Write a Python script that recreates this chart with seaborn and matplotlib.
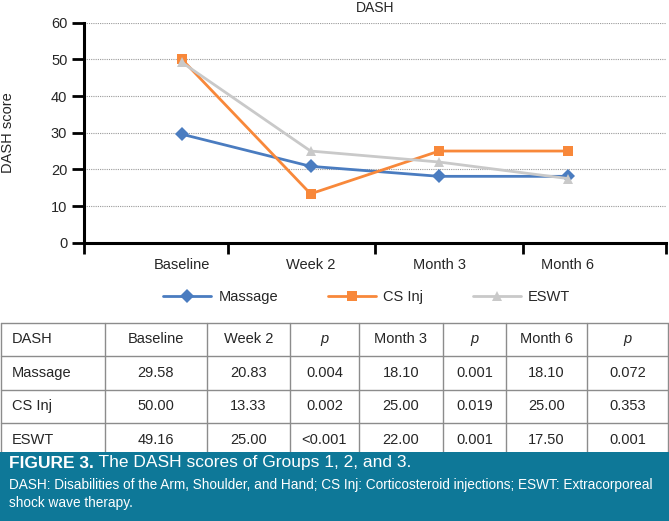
import numpy as np
import pandas as pd
import matplotlib
matplotlib.use("Agg")
import matplotlib.pyplot as plt
from matplotlib.patches import Rectangle
import seaborn as sns

# ==================== Data ====================
TIMEPOINTS = ["Baseline", "Week 2", "Month 3", "Month 6"]
GROUPS = ["Massage", "CS Inj", "ESWT"]
MASSAGE = [29.58, 20.83, 18.10, 18.10]
CS_INJ = [50.00, 13.33, 25.00, 25.00]
ESWT = [49.16, 25.00, 22.00, 17.50]
Y_TICKS = [0, 10, 20, 30, 40, 50, 60]

TABLE_HEADER = ["DASH", "Baseline", "Week 2", "p", "Month 3", "p", "Month 6", "p"]
TABLE_ROWS = [
    ["Massage", "29.58", "20.83", "0.004", "18.10", "0.001", "18.10", "0.072"],
    ["CS Inj", "50.00", "13.33", "0.002", "25.00", "0.019", "25.00", "0.353"],
    ["ESWT", "49.16", "25.00", "<0.001", "22.00", "0.001", "17.50", "0.001"],
]

CAPTION_BOLD = "FIGURE 3."
CAPTION_TITLE = " The DASH scores of Groups 1, 2, and 3."
CAPTION_NOTE = ("DASH: Disabilities of the Arm, Shoulder, and Hand; CS Inj: Corticosteroid "
                "injections; ESWT: Extracorporeal\nshock wave therapy.")

# ==================== Style ====================
sns.set_style("white")
plt.rcParams["font.family"] = ["Liberation Sans", "DejaVu Sans"]

COLORS = {"Massage": "#4A7CC0", "CS Inj": "#F8883A", "ESWT": "#C9C9C9"}
MARKERS = {"Massage": "D", "CS Inj": "s", "ESWT": "^"}
MSIZE = {"Massage": 7.5, "CS Inj": 7, "ESWT": 7}
TEAL = "#0E7898"

df = pd.DataFrame({
    "time": TIMEPOINTS * 3,
    "group": np.repeat(GROUPS, len(TIMEPOINTS)),
    "score": MASSAGE + CS_INJ + ESWT,
})

W, H = 669, 521
fig = plt.figure(figsize=(W / 100, H / 100), dpi=100)

# ---- chart ----
ax = fig.add_axes([84 / W, 1 - 242.7 / H, (666 - 84) / W, 220 / H])
for g in GROUPS:
    sub = df[df["group"] == g]
    sns.lineplot(data=sub, x="time", y="score", ax=ax, color=COLORS[g],
                 marker=MARKERS[g], markersize=MSIZE[g], markeredgewidth=0,
                 linewidth=2, label=g, sort=False)

ax.set_xlim(-0.762, 3.764)
ax.set_ylim(0, 60)
ax.set_yticks(Y_TICKS)
ax.set_yticklabels([str(v) for v in Y_TICKS], fontsize=10.5)
ax.set_xticks(range(len(TIMEPOINTS)))
ax.set_xticklabels(TIMEPOINTS, fontsize=10.5)
ax.tick_params(axis="x", which="major", bottom=True, length=0, pad=11)
ax.set_xticks([-0.762, 0.36, 1.5, 2.65, 3.764], minor=True)
ax.tick_params(axis="x", which="minor", bottom=True, length=8, width=2,
               color="black", direction="out")
ax.tick_params(axis="y", left=True, length=9, width=2, color="black",
               direction="out", pad=3)
for y in Y_TICKS[1:]:
    ax.axhline(y, color="#9A9A9A", linestyle=(0, (1, 1)), linewidth=0.8, zorder=0)
for s in ["top", "right"]:
    ax.spines[s].set_visible(False)
ax.spines["left"].set_linewidth(2.2)
ax.spines["bottom"].set_linewidth(2.2)
ax.spines["left"].set_color("black")
ax.spines["bottom"].set_color("black")
ax.set_xlabel("")
ax.set_ylabel("")
ax.set_title("DASH", fontsize=10, pad=8)
fig.text(8 / W, 1 - 132.7 / H, "DASH score", rotation=90, ha="center", va="center", fontsize=10.5)

leg = ax.legend(loc="center", bbox_to_anchor=(0.548, 1 - 296.7 / H),
                bbox_transform=fig.transFigure, ncol=3, frameon=False,
                fontsize=10.5, handlelength=3.3, handletextpad=0.5, columnspacing=3.4)

# ---- table ----
tax = fig.add_axes([0, 0, 1, 1])
tax.set_xlim(0, W)
tax.set_ylim(H, 0)
tax.axis("off")
col_edges = [1, 105, 207, 290, 359, 443, 506, 587, 668]
row_edges = [322.5, 356, 389.5, 423, 456.5]
for x in col_edges:
    tax.plot([x, x], [row_edges[0], row_edges[-1]], color="#8C8C8C", lw=1)
for y in row_edges:
    tax.plot([col_edges[0], col_edges[-1]], [y, y], color="#8C8C8C", lw=1)
for r, row in enumerate([TABLE_HEADER] + TABLE_ROWS):
    yc = (row_edges[r] + row_edges[r + 1]) / 2
    for c, val in enumerate(row):
        if c == 0:
            tax.text(col_edges[0] + 11, yc, val, ha="left", va="center", fontsize=10.5)
        else:
            xc = (col_edges[c] + col_edges[c + 1]) / 2
            style = "italic" if (r == 0 and val == "p") else "normal"
            tax.text(xc, yc, val, ha="center", va="center", fontsize=10.5, fontstyle=style)

# ---- caption ----
tax.add_patch(Rectangle((0, 452), W, H - 452, facecolor=TEAL, edgecolor="none", zorder=3))
t1 = tax.text(9, 463, CAPTION_BOLD, ha="left", va="center", fontsize=12.5,
              fontweight="bold", color="white", zorder=4)
fig.canvas.draw()
bb = t1.get_window_extent()
x_end = bb.x1
tax.text(x_end, H - 463, CAPTION_TITLE, transform=None, ha="left", va="center",
         fontsize=12.5, color="white", zorder=4)
tax.text(9, 494, CAPTION_NOTE, ha="left", va="center", fontsize=9.8, color="white",
         linespacing=1.35, zorder=4)

fig.savefig("out.png", dpi=100)
